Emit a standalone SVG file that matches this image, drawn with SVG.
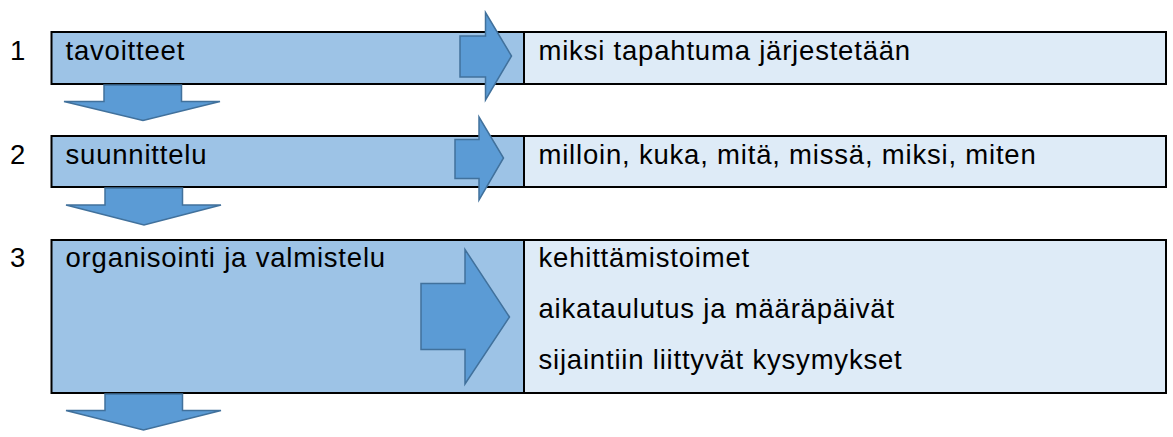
<svg xmlns="http://www.w3.org/2000/svg" width="1173" height="437" viewBox="0 0 1173 437">
  <style>
    .lc { fill: #9DC3E6; stroke: #000; stroke-width: 2; }
    .rc { fill: #DEEBF7; stroke: #000; stroke-width: 2; }
    .t { font-family: "Liberation Sans", Arial, sans-serif; font-size: 27.5px; letter-spacing: 0.8px; fill: #000; }
    .ar { fill: #5B9BD5; stroke: #41719C; stroke-width: 1.5; stroke-linejoin: miter; }
  </style>
  <rect width="1173" height="437" fill="#fff"/>

  <g id="row1">
    <rect class="lc" x="51.5" y="32" width="472.5" height="52"/>
    <rect class="rc" x="524" y="32" width="642" height="52"/>
    <text class="t" x="10" y="60">1</text>
    <text class="t" x="65.5" y="60">tavoitteet</text>
    <text class="t" x="538.5" y="60">miksi tapahtuma järjestetään</text>
  </g>

  <g id="row2">
    <rect class="lc" x="51.5" y="136" width="472.5" height="51"/>
    <rect class="rc" x="524" y="136" width="642" height="51"/>
    <text class="t" x="10" y="164">2</text>
    <text class="t" x="65.5" y="164">suunnittelu</text>
    <text class="t" x="538.5" y="164">milloin, kuka, mitä, missä, miksi, miten</text>
  </g>

  <g id="row3">
    <rect class="lc" x="51.5" y="240" width="472.5" height="153"/>
    <rect class="rc" x="524" y="240" width="642" height="153"/>
    <text class="t" x="10" y="267">3</text>
    <text class="t" x="65.5" y="267">organisointi ja valmistelu</text>
    <text class="t" x="538.5" y="267">kehittämistoimet</text>
    <text class="t" x="538.5" y="318">aikataulutus ja määräpäivät</text>
    <text class="t" x="538.5" y="369">sijaintiin liittyvät kysymykset</text>
  </g>

  <g id="connectors">
    <path class="ar" d="M460,36 H485.5 V12.5 L511.5,56 L485.5,100 V77 H460 Z"/>
    <path class="ar" d="M455,139.5 H479 V117 L503.5,158 L479,200 V178.5 H455 Z"/>
    <path class="ar" d="M421,283.5 H465 V249.5 L509.5,317 L465,384 V349.5 H421 Z"/>
    <path class="ar" d="M104,85 H181.5 V101.5 H220 L143,120.5 L64,101.5 H104 Z"/>
    <path class="ar" d="M105,188 H182.5 V205 H221 L144,225 L66,205 H105 Z"/>
    <path class="ar" d="M105,394 H182.5 V410.5 H221 L143.5,430 L66,410.5 H105 Z"/>
  </g>
</svg>
